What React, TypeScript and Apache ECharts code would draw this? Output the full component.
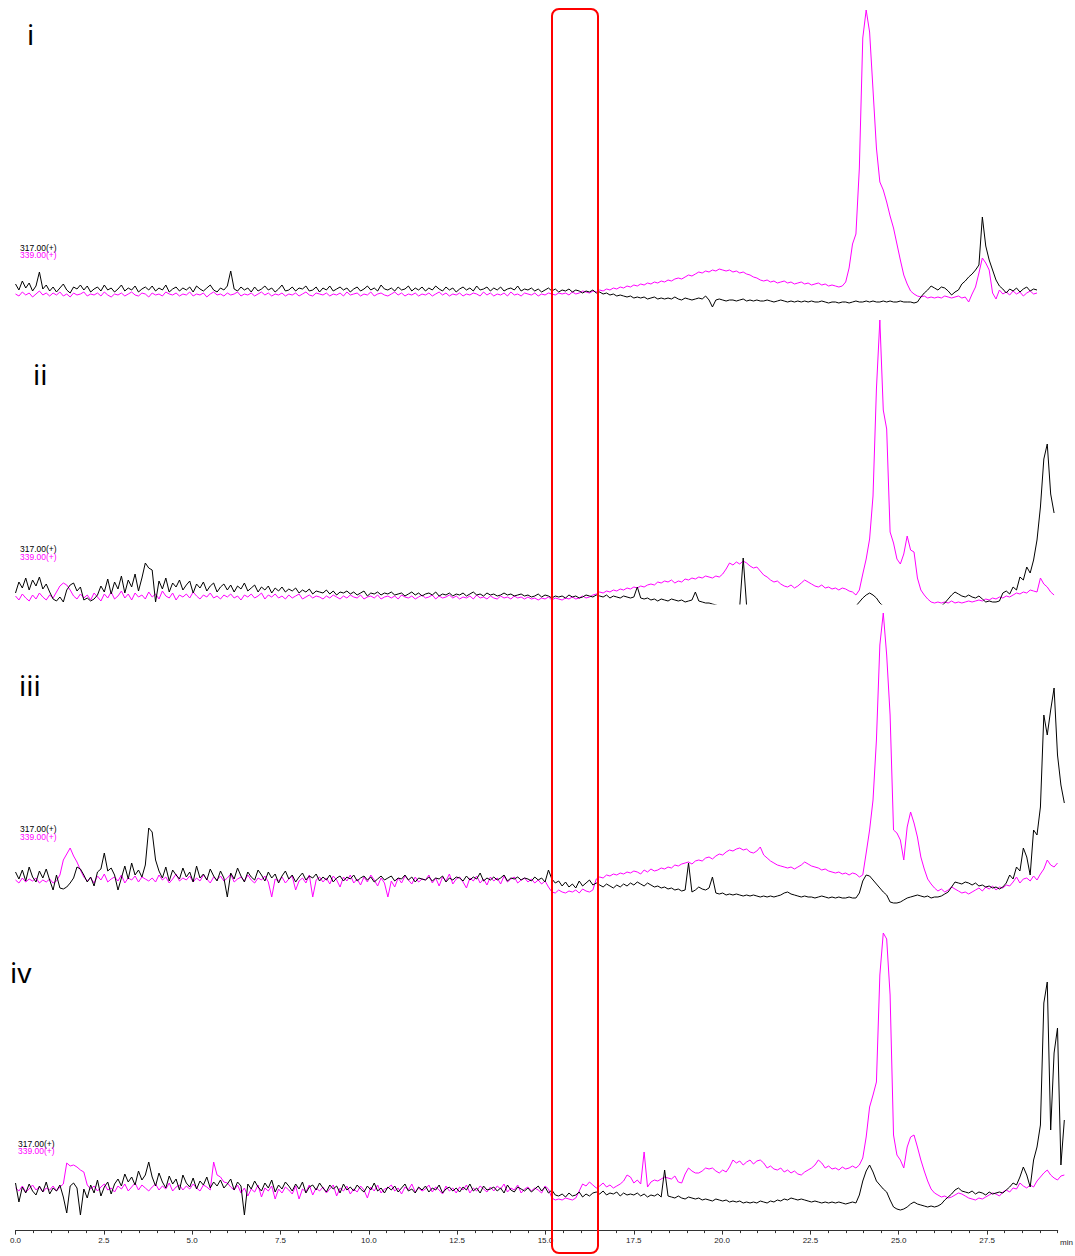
import React, { useEffect, useRef } from 'react';
import * as echarts from 'echarts';

// Chromatogram scan spacing (minutes between recorded points)
const SCAN_STEP_MIN = 0.0967;
const AXIS_MAX_MIN = 29.5;
const LABEL_AXIS_MAX_MIN = 27.5;
const TRACE_AXIS_MAX_MIN = 29.9;
const AXIS_UNIT = 'min';
const PANEL_LABELS = ['i', 'ii', 'iii', 'iv'];
const ION_LABELS = ['317.00(+)', '339.00(+)'];

// Intensities (arbitrary units) – panel i
const p1Ion317 = [
  24,18,27,20,25,17,22,36,19,23, 17,21,16,20,24,18,15,21,19,23, 18,22,16,19,21,17,23,18,20,16,
  19,23,17,20,18,22,16,19,21,18, 22,17,20,18,23,16,19,21,17,20, 18,21,16,22,19,17,20,23,18,16,
  20,18,22,37,19,17,21,18,20,16, 21,17,19,22,18,20,16,19,23,17, 18,21,17,20,19,22,17,18,21,16,
  20,18,22,17,19,21,18,20,16,19, 21,17,19,22,18,20,17,23,19,18, 20,17,21,18,19,22,17,20,18,21,
  17,20,18,22,19,17,21,18,20,16, 19,21,18,20,17,22,18,19,21,17, 20,18,21,17,19,20,18,22,17,19,
  18,20,17,19,16,18,20,17,19,16, 18,17,19,16,18,17,15,17,16,18, 15,16,14,15,13,14,12,13,12,11,
  12,10,11,10,11,9,10,11,9,10, 9,10,9,11,9,8,10,9,8,9, 10,9,12,8,1,8,9,8,7,8,
  8,7,8,9,7,8,7,8,7,7, 8,7,6,7,8,7,6,7,6,7, 6,7,6,7,6,6,7,6,5,6,
  6,5,6,6,5,6,7,6,6,7, 6,7,6,6,7,6,7,6,6,7, 6,6,6,5,6,11,15,18,22,20,
  18,21,20,17,13,16,18,24,27,31, 34,38,43,91,62,48,38,28,22,19, 15,19,17,20,16,19,21,17,19,18
];
const p1Ion339 = [
  14,12,16,13,15,11,14,17,13,15, 12,15,13,16,12,14,11,15,13,14, 16,12,14,13,15,12,16,13,11,14,
  13,15,12,14,16,13,12,15,14,11, 15,13,14,12,16,14,13,15,12,14, 13,16,12,14,13,15,11,14,16,13,
  14,12,15,13,14,16,12,14,13,15, 12,14,16,13,15,12,14,13,15,12, 14,13,15,12,14,16,13,12,15,14,
  13,15,12,14,13,15,12,16,13,14, 15,12,14,13,16,12,14,15,13,12, 14,16,13,15,12,14,13,15,12,14,
  13,15,12,14,16,13,15,12,14,13, 15,12,14,13,15,14,12,16,13,15, 12,14,13,15,12,16,13,14,12,15,
  14,13,15,12,14,13,15,14,13,15, 14,15,13,16,14,15,17,16,15,17, 16,18,17,19,18,20,19,21,20,22,
  21,23,22,24,23,25,24,26,25,27, 26,28,27,29,30,29,31,33,32,34, 36,35,37,36,38,37,39,38,37,38,
  36,37,35,36,34,33,31,30,28,27, 28,26,27,25,26,27,25,26,24,25, 26,24,25,23,24,25,23,24,22,23,
  22,21,22,26,40,64,74,140,270,298, 276,218,160,126,118,106,92,80,64,48, 33,24,17,14,12,11,12,10,11,10,
  11,10,12,11,10,11,12,10,11,6, 14,21,35,50,45,38,15,9,18,14, 16,13,17,14,16,12,15,17,14,15
];

// Panel ii
const p2Ion317 = [
  11,22,16,26,14,24,18,27,15,20, 12,5,3,7,2,14,19,21,13,17, 4,6,3,5,9,18,12,25,10,22,
  15,28,11,24,17,30,13,26,41,36, 34,2,23,15,26,12,21,17,24,14, 19,23,11,20,16,22,13,18,21,12,
  17,20,14,19,12,18,15,21,13,16, 19,12,17,14,18,11,16,13,17,12, 15,13,16,11,14,12,15,10,13,12,
  11,14,10,13,9,12,11,13,10,12, 9,11,13,8,11,10,12,9,11,10, 12,9,10,11,8,10,12,9,11,8,
  10,11,9,12,8,10,9,11,8,10, 9,11,8,10,12,9,10,8,11,9, 10,8,9,11,9,10,8,9,10,8,
  9,7,8,10,7,9,8,6,8,7, 8,6,9,7,8,6,7,9,8,7, 9,8,7,9,6,8,7,6,8,7,
  6,7,17,6,5,6,4,5,3,5, 4,3,5,4,3,4,2,3,4,12, 3,2,1,1,0,-1,-2,-2,-2,-2,
  -2,-2,-2,46,-2,-2,-2,-2,-2,-2, -2,-2,-2,-2,-2,-2,-2,-2,-2,-2, -2,-2,-2,-2,-2,-2,-2,-2,-2,-2,
  -2,-2,-2,-2,-2,-2,-2,2,6,9, 11,9,6,1,-2,-2,-2,-2,-2,-2, -2,-2,-2,-2,-2,-2,-2,-2,-2,-2,
  -2,-2,1,5,9,12,10,8,7,9, 7,6,8,5,2,3,2,2,3,11, 13,10,17,14,27,24,37,31,44,64,
  97,145,160,110,91
];
const p2Ion339 = [
  8,4,10,6,3,9,5,11,7,4, 9,6,12,18,21,19,14,8,5,10, 6,9,4,11,7,3,10,6,12,5,
  8,13,6,10,4,11,7,9,5,12, 7,10,5,13,8,6,11,4,9,7, 10,6,12,8,5,9,7,11,6,8,
  5,9,7,10,6,8,4,9,7,10, 6,8,11,5,9,7,10,6,8,5, 9,6,8,10,5,7,9,6,8,7,
  5,8,6,9,7,5,8,6,9,7, 6,9,5,7,8,6,9,5,7,8, 6,8,5,9,7,6,8,5,7,9,
  6,7,9,5,8,6,7,9,6,8, 5,7,6,8,5,9,6,7,5,8, 6,5,8,6,7,5,8,6,7,5,
  7,5,6,4,6,5,7,4,6,5, 4,6,5,7,5,6,8,6,7,9, 10,12,11,13,12,14,13,15,14,16,
  15,17,16,18,17,19,20,19,22,21, 23,22,24,21,23,22,25,24,26,25, 27,26,28,27,26,28,27,30,35,41,
  39,42,40,43,41,38,36,37,33,29, 27,24,22,23,20,18,17,19,16,18, 21,24,22,20,18,17,19,16,17,15,
  16,14,16,15,13,12,9,14,30,45, 65,108,215,284,194,175,72,61,45,40, 50,68,54,52,26,14,9,5,2,1,
  2,1,2,1,3,1,2,1,2,3, 2,3,4,3,5,4,6,5,7,6, 8,7,9,11,10,12,11,14,13,12,
  26,20,17,12,9
];

// Panel iii
const p3Ion317 = [
  33,26,35,24,38,28,23,34,27,36, 25,15,30,17,16,18,22,27,38,36, 30,23,28,19,33,36,52,34,37,30,
  15,27,39,26,42,30,35,28,40,77, 73,45,34,27,38,24,35,30,26,37, 28,33,23,39,27,31,25,36,29,24,
  34,27,8,32,26,37,29,23,33,28, 25,35,30,24,33,27,31,22,29,34, 26,30,23,28,32,25,29,27,31,24,
  28,25,30,23,27,29,24,28,26,30, 24,27,29,25,28,23,26,29,25,27, 29,24,27,26,30,25,28,23,27,26,
  25,28,24,27,26,29,23,27,25,28, 27,24,29,25,28,26,32,24,27,25, 28,25,27,30,24,27,26,28,25,27,
  26,24,28,25,27,23,35,26,22,24, 19,23,18,21,17,24,19,22,25,20, 22,20,18,21,19,17,20,18,21,19,
  22,20,23,21,19,22,20,18,19,17, 18,16,17,15,16,14,15,42,13,15, 18,16,15,17,28,12,11,12,10,11,
  10,11,10,9,10,9,10,9,8,9, 8,9,8,9,10,12,13,11,10,9, 8,9,8,8,7,8,9,8,7,8,
  7,8,7,7,8,7,7,12,24,30, 29,25,21,17,13,10,3,2,2,3, 5,7,8,9,10,9,8,9,7,8,
  8,9,11,13,18,23,22,21,23,22, 20,22,19,20,18,19,17,18,16,18, 22,30,26,38,34,57,48,30,75,70,
  98,190,170,195,217,150,120,102
];
const p3Ion339 = [
  25,22,27,23,26,24,27,22,25,23, 26,22,24,30,45,51,57,49,43,35, 28,24,27,22,29,25,31,23,26,28,
  24,30,22,27,25,29,23,28,26,24, 27,23,30,25,28,22,26,31,24,27, 25,29,23,27,24,30,26,22,28,25,
  29,24,27,31,23,26,28,24,30,25, 22,27,25,29,23,8,26,24,28,22, 26,29,15,24,27,22,30,8,25,28,
  23,27,21,29,25,18,28,24,30,22, 26,20,28,23,30,25,19,27,22,8, 24,18,27,22,29,25,21,28,23,26,
  25,30,22,27,19,28,24,31,21,26, 28,23,17,27,24,29,22,26,20,28, 24,27,21,29,23,26,28,22,25,27,
  23,26,22,25,21,24,18,13,12,15, 13,12,14,13,15,12,16,14,13,15, 26,28,27,30,29,31,30,32,31,33,
  32,34,33,31,35,33,36,34,35,37, 36,38,37,40,39,41,42,43,41,44, 45,44,47,48,46,49,51,50,53,55,
  54,56,57,55,56,53,52,54,58,50, 47,44,42,40,39,38,37,38,36,38, 40,43,41,39,38,37,35,36,34,33,
  32,33,31,32,30,32,31,28,30,52, 75,105,165,260,292,250,190,75,72,65, 45,78,93,82,68,48,36,26,21,17,
  14,16,13,15,18,16,14,12,13,11, 13,15,17,14,18,16,19,15,18,17, 20,19,23,28,22,26,27,24,29,25,
  31,36,45,40,38,42
];

// Panel iv
const p4Ion317 = [
  32,13,28,22,31,24,20,29,23,33, 21,27,24,30,18,2,29,32,27,0, 26,17,30,22,35,19,28,33,21,31,
  36,29,41,33,38,30,44,35,40,53, 38,29,42,33,27,39,31,36,25,40, 32,28,37,26,34,30,38,27,33,29,
  35,27,31,36,25,33,29,0,31,26, 34,28,24,32,27,35,23,30,26,33, 29,24,31,26,33,22,28,30,25,32,
  27,23,30,26,29,22,31,25,28,24, 30,26,23,29,25,32,24,27,22,28, 25,29,23,27,31,24,26,22,28,25,
  29,23,27,25,30,22,26,28,24,27, 23,28,25,31,24,27,22,29,25,26, 28,24,27,22,30,25,23,28,26,24,
  27,23,26,29,24,28,22,25,20,19, 21,18,22,19,20,23,18,21,19,22, 23,21,24,20,22,21,23,19,22,20,
  21,20,22,19,21,18,20,19,21,18, 45,19,18,17,19,17,16,18,17,16, 17,15,16,15,14,16,15,14,15,13,
  14,13,14,12,13,12,13,12,14,13, 12,14,13,15,14,16,15,17,16,15, 16,15,14,13,14,13,12,13,12,13,
  12,13,12,11,12,13,12,20,34,44, 50,43,34,30,26,23,15,8,6,5, 6,8,11,13,11,10,9,8,9,8,
  9,11,15,18,21,25,27,24,23,22, 24,21,23,22,20,23,21,22,23,22, 25,28,32,30,38,48,40,28,55,68,
  90,212,233,85,162,187,50,95
];
const p4Ion339 = [
  27,24,29,23,26,30,25,28,23,27, 25,29,24,28,31,52,49,50,48,45, 43,30,26,29,24,28,31,25,27,23,
  29,26,31,24,28,32,25,30,27,24, 28,31,25,29,26,32,24,28,30,25, 29,26,31,27,24,30,28,25,53,40,
  38,33,32,28,25,30,22,27,19,26, 23,30,18,27,24,29,16,26,22,28, 25,21,29,16,26,23,30,20,27,24,
  28,22,26,30,19,27,24,29,21,26, 23,29,25,17,28,24,30,22,26,27, 30,24,27,21,28,25,31,23,27,24,
  26,30,23,28,25,21,29,24,27,22, 28,25,30,22,27,24,29,26,23,28, 24,29,26,31,23,27,25,30,22,26,
  28,24,27,25,22,29,26,17,15,16, 15,17,16,15,17,24,31,29,33,30, 27,29,32,28,30,27,29,31,34,40,
  38,32,35,31,63,28,33,35,34,36, 38,37,36,39,33,32,41,47,44,42, 42,44,47,46,47,44,42,45,43,48,
  55,52,54,50,53,55,51,54,55,52, 47,49,46,45,47,43,45,42,44,41, 40,43,45,47,50,55,52,47,49,46,
  47,45,48,46,47,49,47,50,57,78, 108,120,133,240,282,276,220,80,60,55, 47,68,78,80,68,55,44,34,26,22,
  20,18,19,17,18,20,22,21,19,17, 16,15,17,16,18,20,22,21,19,23, 25,23,27,26,32,29,27,30,28,34,
  38,42,45,40,37,35,39,40
];

const PANELS = [
  { ion317: p1Ion317, ion339: p1Ion339 },
  { ion317: p2Ion317, ion339: p2Ion339 },
  { ion317: p3Ion317, ion339: p3Ion339 },
  { ion317: p4Ion317, ion339: p4Ion339 },
];

// Layout (pixels)
const PX_PER_MIN = 35.33;
const PLOT_LEFT = 15.5;
const PANEL_HEIGHT = 300;
const PANEL_BOTTOMS = [308, 604, 905, 1215];
const NUMERAL_POS = [[27, 34], [33, 374], [19, 685], [10, 972]];
const ION_LABEL_POS = [[20, 247.5], [20, 549], [20, 829], [18, 1143.5]];
const AXIS_Y = 1230.6;

const MAGENTA = '#ff00ff';
const BLACK = '#000000';

const toSeriesData = (arr: number[]) => arr.map((v, i) => [+(i * SCAN_STEP_MIN).toFixed(4), v]);

export default function App() {
  const ref = useRef<HTMLDivElement>(null);

  useEffect(() => {
    if (!ref.current) return;
    const chart = echarts.init(ref.current, undefined, { renderer: 'svg' });

    const grids: any[] = [];
    const xAxes: any[] = [];
    const yAxes: any[] = [];
    const series: any[] = [];
    const graphics: any[] = [];

    PANELS.forEach((p, k) => {
      grids.push({
        left: PLOT_LEFT,
        top: PANEL_BOTTOMS[k] - PANEL_HEIGHT,
        width: TRACE_AXIS_MAX_MIN * PX_PER_MIN,
        height: PANEL_HEIGHT,
      });
      xAxes.push({ type: 'value', gridIndex: k, min: 0, max: TRACE_AXIS_MAX_MIN, show: false });
      yAxes.push({ type: 'value', gridIndex: k, min: 0, max: PANEL_HEIGHT, show: false });
      series.push({
        type: 'line', name: ION_LABELS[1] + ' ' + PANEL_LABELS[k], xAxisIndex: k, yAxisIndex: k,
        data: toSeriesData(p.ion339), showSymbol: false, symbol: 'none',
        lineStyle: { color: MAGENTA, width: 1 }, itemStyle: { color: MAGENTA }, z: 2,
      });
      series.push({
        type: 'line', name: ION_LABELS[0] + ' ' + PANEL_LABELS[k], xAxisIndex: k, yAxisIndex: k,
        data: toSeriesData(p.ion317), showSymbol: false, symbol: 'none',
        lineStyle: { color: BLACK, width: 1 }, itemStyle: { color: BLACK }, z: 3,
      });

      graphics.push({
        type: 'text', x: NUMERAL_POS[k][0], y: NUMERAL_POS[k][1],
        style: { text: PANEL_LABELS[k], fill: '#000', fontSize: 28, fontFamily: 'Noto Sans', textVerticalAlign: 'middle' },
      });
      graphics.push({
        type: 'text', x: ION_LABEL_POS[k][0], y: ION_LABEL_POS[k][1],
        style: { text: ION_LABELS[0], fill: '#000', fontSize: 8.5, fontFamily: 'Liberation Sans', textVerticalAlign: 'middle' },
      });
      graphics.push({
        type: 'text', x: ION_LABEL_POS[k][0], y: ION_LABEL_POS[k][1] + 7.5,
        style: { text: ION_LABELS[1], fill: MAGENTA, fontSize: 8.5, fontFamily: 'Liberation Sans', textVerticalAlign: 'middle' },
      });
    });

    // Minor-tick axis (0.5 min)
    grids.push({ left: PLOT_LEFT, top: AXIS_Y - 30, width: AXIS_MAX_MIN * PX_PER_MIN, height: 30 });
    xAxes.push({
      type: 'value', gridIndex: 4, min: 0, max: AXIS_MAX_MIN, interval: 0.5, position: 'bottom',
      axisLine: { show: true, lineStyle: { color: '#333', width: 1 } },
      axisTick: { show: true, length: 2.5, lineStyle: { color: '#333', width: 1 } },
      axisLabel: { show: false }, splitLine: { show: false },
    });
    yAxes.push({ type: 'value', gridIndex: 4, show: false });
    // Major-tick / label axis (2.5 min)
    grids.push({ left: PLOT_LEFT, top: AXIS_Y - 30, width: LABEL_AXIS_MAX_MIN * PX_PER_MIN, height: 30 });
    xAxes.push({
      type: 'value', gridIndex: 5, min: 0, max: LABEL_AXIS_MAX_MIN, interval: 2.5, position: 'bottom',
      axisLine: { show: false },
      axisTick: { show: true, length: 4, lineStyle: { color: '#333', width: 1 } },
      axisLabel: {
        show: true, fontSize: 8, color: '#222', margin: 6, fontFamily: 'Liberation Sans',
        formatter: (v: number) => v.toFixed(1),
      },
      splitLine: { show: false },
    });
    yAxes.push({ type: 'value', gridIndex: 5, show: false });

    graphics.push({
      type: 'text', x: 1060, y: AXIS_Y + 12,
      style: { text: AXIS_UNIT, fill: '#222', fontSize: 8, fontFamily: 'Liberation Sans', textVerticalAlign: 'middle' },
    });
    graphics.push({
      type: 'rect', z: 100,
      shape: { x: 552, y: 9, width: 46, height: 1244, r: 7 },
      style: { fill: 'none', stroke: '#ff0000', lineWidth: 2 },
    });

    chart.setOption({
      animation: false,
      backgroundColor: '#ffffff',
      grid: grids,
      xAxis: xAxes,
      yAxis: yAxes,
      series,
      graphic: graphics,
    });

    return () => chart.dispose();
  }, []);

  return (
    <div
      ref={ref}
      style={{ position: 'fixed', left: 0, top: 0, width: 1075, height: 1256, background: '#fff' }}
    />
  );
}
